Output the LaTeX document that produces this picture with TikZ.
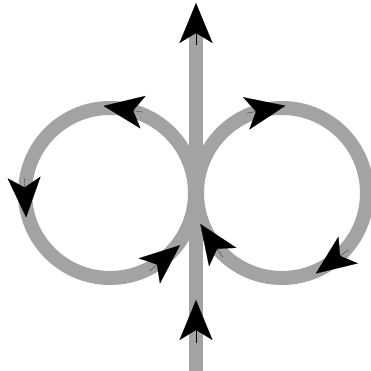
\documentclass[tikz,border=0pt]{standalone}
\usepackage{xcolor}
\usepackage{tikz}
\usetikzlibrary{arrows.meta, calc}

\definecolor{loopgray}{RGB}{163,163,163}

\begin{document}
\begin{tikzpicture}[x=0.02cm, y=0.02cm, >=stealth]
    % Styles
    \tikzstyle{track} = [draw=loopgray, line width=0.28cm]
    \tikzstyle{pointer} = [draw=black, line width=0.1pt, -{Stealth[length=0.8cm, width=0.66cm, inset=0.2cm]}]

    \useasboundingbox (0,0) rectangle (371,371);

    % Coordinates
    \coordinate (lc) at (110,178);
    \coordinate (rc) at (282,178);
    \coordinate (bottom) at (196,0);
    \coordinate (top) at (196,345);

    % Tracks
    \draw [track] (bottom) -- (top);
    \draw [track] (lc) circle [radius=85];
    \draw [track] (rc) circle [radius=85];

    % Heads on the axis
    \draw [pointer] (196,28) -- (196,71);
    \draw [pointer] (196,326) -- (196,368);

    % Heads on the left loop (counter-clockwise)
    \draw [pointer] ($(lc)+(81:85)+(-9:20)$) -- ($(lc)+(81:85)+(171:20)$);
    \draw [pointer] ($(lc)+(183:85)+(93:20)$) -- ($(lc)+(183:85)+(273:20)$);
    \draw [pointer] ($(lc)+(310:85)+(220:20)$) -- ($(lc)+(310:85)+(40:20)$);

    % Heads on the right loop (clockwise)
    \draw [pointer] ($(rc)+(101:85)+(191:20)$) -- ($(rc)+(101:85)+(11:20)$);
    \draw [pointer] ($(rc)+(-54:85)+(36:20)$) -- ($(rc)+(-54:85)+(-144:20)$);
    \draw [pointer] ($(rc)+(214:85)+(304:20)$) -- ($(rc)+(214:85)+(124:20)$);
\end{tikzpicture}
\end{document}
